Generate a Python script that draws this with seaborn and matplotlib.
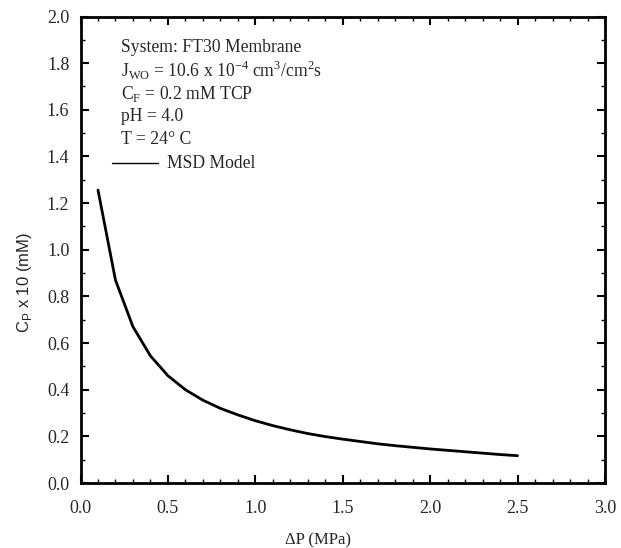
import numpy as np
import pandas as pd
import matplotlib
matplotlib.use("Agg")
import matplotlib.pyplot as plt
from matplotlib.ticker import MultipleLocator
import seaborn as sns

delta_p = [0.1, 0.2, 0.3, 0.4, 0.5, 0.6, 0.7, 0.8, 0.9, 1.0, 1.1, 1.2, 1.3, 1.4,
           1.5, 1.6, 1.7, 1.8, 1.9, 2.0, 2.1, 2.2, 2.3, 2.4, 2.5]
cp_x10 = [1.256, 0.87, 0.67, 0.545, 0.46, 0.40, 0.355, 0.32, 0.292, 0.267, 0.246,
          0.228, 0.212, 0.199, 0.188, 0.178, 0.168, 0.160, 0.153, 0.146, 0.140,
          0.134, 0.128, 0.122, 0.117]
x_ticks = [0.0, 0.5, 1.0, 1.5, 2.0, 2.5, 3.0]
y_ticks = [0.0, 0.2, 0.4, 0.6, 0.8, 1.0, 1.2, 1.4, 1.6, 1.8, 2.0]

df = pd.DataFrame({"dp": delta_p, "cp": cp_x10})

sns.set_style("ticks")
plt.rcParams["font.family"] = ["Liberation Serif", "DejaVu Serif"]

fig = plt.figure(figsize=(6.21, 5.48), dpi=100)
ax = fig.add_axes([80.5 / 621, 1 - 483 / 548, (605 - 80.5) / 621, (483 - 16.5) / 548])

sns.lineplot(data=df, x="dp", y="cp", ax=ax, color="black", linewidth=2.0)

ax.set_xlim(0, 3.0)
ax.set_ylim(0, 2.0)
ax.set_xticks(x_ticks)
ax.set_yticks(y_ticks)
ax.set_xticklabels([f"{v:.1f}" for v in x_ticks])
ax.set_yticklabels([f"{v:.1f}" for v in y_ticks])
ax.xaxis.set_minor_locator(MultipleLocator(0.1))
ax.yaxis.set_minor_locator(MultipleLocator(0.1))
ax.tick_params(axis="both", which="both", direction="in", top=True, right=True,
               labelsize=13, color="black")
ax.tick_params(which="major", length=6, width=1.5)
ax.tick_params(which="minor", length=3, width=1.0)
ax.tick_params(axis="x", which="major", pad=12)
ax.tick_params(axis="y", which="major", pad=8)
for s in ax.spines.values():
    s.set_linewidth(2.0)
    s.set_color("black")

ax.set_xlabel("ΔP (MPa)", fontsize=12, labelpad=11)
ax.xaxis.label.set_x(0.452)
ax.set_ylabel("C$_\\mathregular{P}$ x 10 (mM)", fontsize=12,
              family=["Liberation Sans", "DejaVu Sans"], labelpad=9)
ax.yaxis.label.set_y(0.43)

lines = [
    "System: FT30 Membrane",
    "J$_\\mathregular{WO}$ = 10.6 x 10$^\\mathregular{-4}$ cm$^\\mathregular{3}$/cm$^\\mathregular{2}$s",
    "C$_\\mathregular{F}$ = 0.2 mM TCP",
    "pH = 4.0",
    "T = 24° C",
]
ys = [47, 70, 94, 117, 140]
for t, yp in zip(lines, ys):
    fig.text(121 / 621, 1 - yp / 548, t, fontsize=12.7, va="center", ha="left")
yl = 163
fig.add_artist(plt.Line2D([112 / 621, 158 / 621], [1 - yl / 548, 1 - yl / 548],
                          color="black", linewidth=1.0))
fig.text(167 / 621, 1 - yl / 548, "MSD Model", fontsize=12.7, va="center", ha="left")

fig.savefig("out.png", dpi=100)
